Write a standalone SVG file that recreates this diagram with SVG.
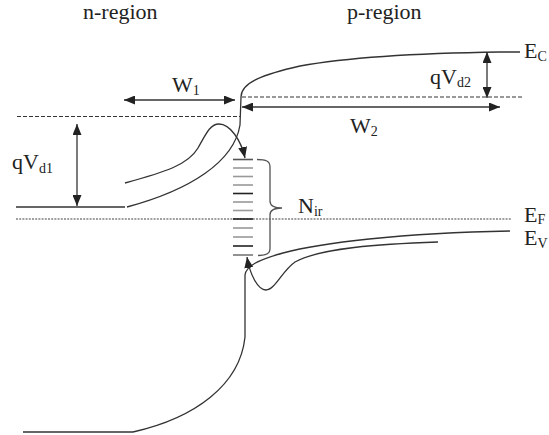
<svg xmlns="http://www.w3.org/2000/svg" width="549" height="435" viewBox="0 0 549 435">
<style>
text{font-family:"Liberation Serif","Times New Roman",serif;fill:#222}
.lbl{font-size:22px}
.sub{font-size:14px}
.band{fill:none;stroke:#333;stroke-width:1.3}
.dash{fill:none;stroke:#333;stroke-width:1;stroke-dasharray:4 2}
.dot{fill:none;stroke:#444;stroke-width:1.2;stroke-dasharray:2 1.2}
.arr{fill:none;stroke:#333;stroke-width:1.3}
.trap{stroke:#999;stroke-width:1.6}
.trapk{stroke:#222;stroke-width:1.6}
</style>
<defs>
<marker id="ah" markerUnits="userSpaceOnUse" markerWidth="11" markerHeight="9" refX="11" refY="4.5" orient="auto-start-reverse">
<path d="M0,0 L11,4.5 L0,9 z" fill="#222"/>
</marker>
</defs>
<rect width="549" height="435" fill="#fff"/>
<g id="labels">
<text class="lbl" x="83" y="19">n-region</text>
<text class="lbl" x="347" y="19">p-region</text>
<text class="lbl" x="524" y="58">E<tspan class="sub" dy="3">C</tspan></text>
<text class="lbl" x="524" y="222">E<tspan class="sub" dy="2">F</tspan></text>
<text class="lbl" x="524" y="245">E<tspan class="sub" dy="3">V</tspan></text>
<text class="lbl" x="172" y="92">W<tspan class="sub" dy="3">1</tspan></text>
<text class="lbl" x="350" y="133">W<tspan class="sub" dy="3">2</tspan></text>
<text class="lbl" x="430" y="84">qV<tspan class="sub" dy="3">d2</tspan></text>
<text class="lbl" x="12" y="169">qV<tspan class="sub" dy="4">d1</tspan></text>
<text class="lbl" x="298" y="213">N<tspan class="sub" dy="3">ir</tspan></text>
</g>
<g id="reference-lines">
<line class="dash" x1="17" y1="116.5" x2="240" y2="116.5"/>
<line class="dash" x1="242" y1="97" x2="522" y2="97"/>
<line class="dot" x1="16" y1="219" x2="512" y2="219"/>
</g>
<g id="conduction-band">
<line class="band" x1="16" y1="207" x2="125" y2="207"/>
<path class="band" d="M127,207 C190,190 234,162 240,125 L241,97 C241,82 265,74 300,66 C350,57 430,53 500,52 L520,52"/>
</g>
<g id="valence-band">
<line class="band" x1="23" y1="432" x2="133" y2="432"/>
<path class="band" d="M133,432 C195,418 240,385 245,337 L245,275 C246,266 258,260 283,253 C320,243 400,233 510,231"/>
</g>
<g id="traps">
<line class="trapk" x1="233" y1="159.5" x2="253" y2="159.5" style="stroke:#555"/>
<line class="trap" x1="233" y1="168" x2="253" y2="168"/>
<line class="trap" x1="233" y1="176.5" x2="253" y2="176.5"/>
<line class="trap" x1="233" y1="185" x2="253" y2="185"/>
<line class="trapk" x1="233" y1="193.5" x2="253" y2="193.5"/>
<line class="trap" x1="233" y1="202" x2="253" y2="202"/>
<line class="trap" x1="233" y1="210.5" x2="253" y2="210.5"/>
<line class="trapk" x1="233" y1="219" x2="253" y2="219"/>
<line class="trap" x1="233" y1="228" x2="253" y2="228"/>
<line class="trap" x1="233" y1="237" x2="253" y2="237"/>
<line class="trapk" x1="233" y1="246" x2="253" y2="246"/>
<line class="trap" x1="233" y1="255" x2="253" y2="255" style="stroke:#777"/>
<path fill="none" stroke="#555" stroke-width="1.3" d="M257,159.5 C266,159.5 270,161 270,167 L270,201 C270,205 274,208 282,208 C274,208 270,211 270,215 L270,249 C270,254 266,255.5 258,255.5"/>
</g>
<g id="connectors">
<line class="arr" x1="124" y1="100" x2="235" y2="100" marker-start="url(#ah)" marker-end="url(#ah)"/>
<line class="arr" x1="242" y1="107" x2="500" y2="107" marker-start="url(#ah)" marker-end="url(#ah)"/>
<line class="arr" x1="487" y1="52" x2="487" y2="98" marker-start="url(#ah)" marker-end="url(#ah)"/>
<line class="arr" x1="77" y1="124" x2="77" y2="206" marker-start="url(#ah)" marker-end="url(#ah)"/>
<path class="arr" d="M125,183 C165,172 188,165 198,148 C206,134 210,124 219,124 C230,124 241,140 245,158" marker-end="url(#ah)"/>
<path class="arr" d="M438,242 C380,244 320,248 295,262 C282,271 275,290 266,290 C258,290 250,275 247,257" marker-end="url(#ah)"/>
</g>
</svg>
